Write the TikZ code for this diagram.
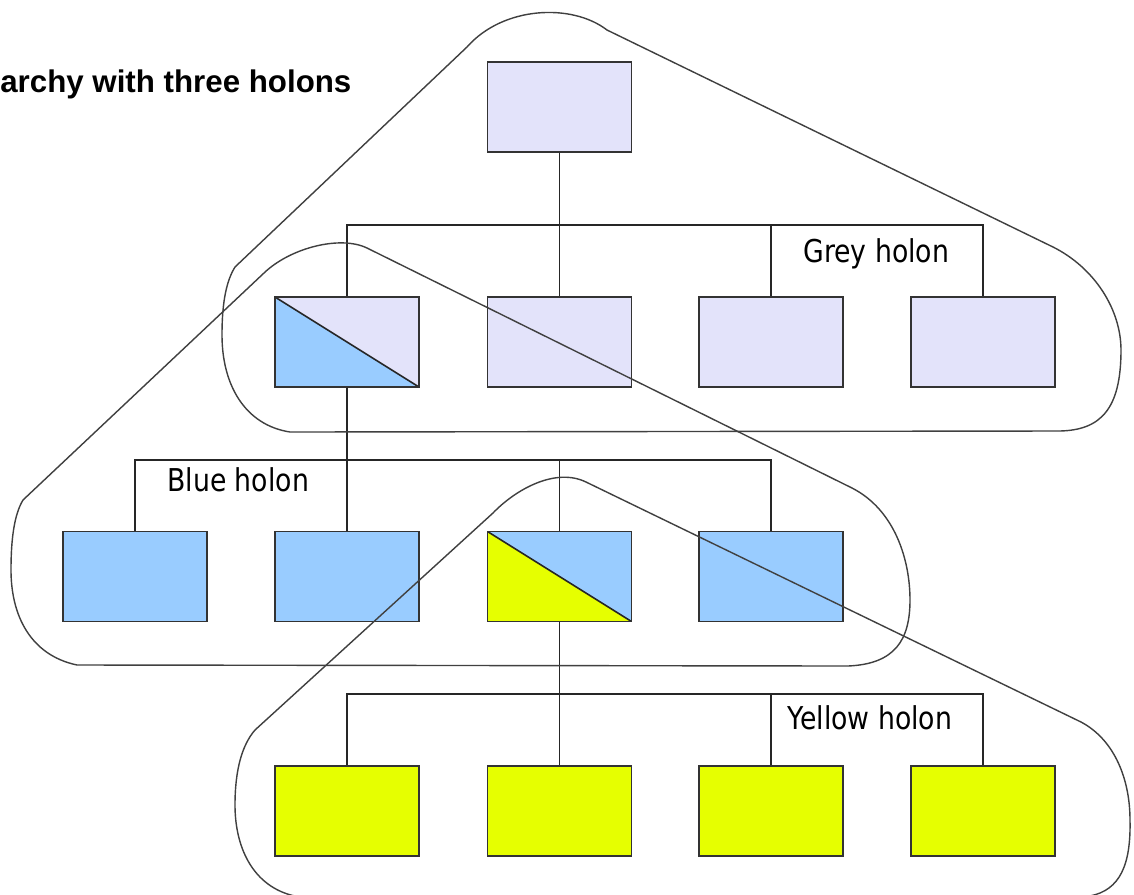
\documentclass[tikz,border=0pt]{standalone}
\usepackage{fontspec}
\usepackage{xcolor}
\usepackage{tikz}
\usetikzlibrary{calc}

\newfontfamily\titlefont{Liberation Sans}
\newfontfamily\lblfont[FakeStretch=0.85]{DejaVu Sans}

\definecolor{holgrey}{HTML}{E3E3FA}
\definecolor{holblue}{HTML}{99CCFF}
\definecolor{holyellow}{HTML}{E6FF00}

\begin{document}
\begin{tikzpicture}[
    x=0.02cm,
    y=-0.02cm,
    block/.style={rectangle, draw=black!80, line width=1pt, minimum width=2.88cm,
                  minimum height=1.8cm, inner sep=0pt},
    split/.style 2 args={block, fill=#1, path picture={
        \fill[#2] (path picture bounding box.north west)
            -- (path picture bounding box.south east)
            -- (path picture bounding box.south west) -- cycle;
        \draw[black!85, line width=0.9pt] (path picture bounding box.north west)
            -- (path picture bounding box.south east);}},
    link/.style={draw=black!85, line width=1.1pt},
    holon/.style={draw=black!75, line width=0.8pt},
    lbl/.style={font=\lblfont\fontsize{17.9pt}{20pt}\selectfont, inner sep=0pt,
                anchor=base west},
]
\fill[white] (0,0) rectangle (1134,894);
\useasboundingbox (0,0) rectangle (1134,894);
\clip (0,0) rectangle (1134,894);

\node[font=\titlefont\bfseries\fontsize{17.8pt}{20pt}\selectfont, inner sep=0pt,
      anchor=base west] (title) at (0,92) {archy with three holons};

\node[block, fill=holgrey]            (top) at (559.5,107) {};
\node[split={holgrey}{holblue}]       (g1)  at (347,342)   {};
\node[block, fill=holgrey]            (g2)  at (559.5,342) {};
\node[block, fill=holgrey]            (g3)  at (771,342)   {};
\node[block, fill=holgrey]            (g4)  at (983,342)   {};
\node[block, fill=holblue]            (b1)  at (135,576.5) {};
\node[block, fill=holblue]            (b2)  at (347,576.5) {};
\node[split={holblue}{holyellow}]     (b3)  at (559.5,576.5) {};
\node[block, fill=holblue]            (b4)  at (771,576.5) {};
\node[block, fill=holyellow]          (y1)  at (347,811)   {};
\node[block, fill=holyellow]          (y2)  at (559.5,811) {};
\node[block, fill=holyellow]          (y3)  at (771,811)   {};
\node[block, fill=holyellow]          (y4)  at (983,811)   {};

\foreach \n in {g1,g2,g3,g4}
    \draw[link] (top.south) -- ++(0,72) -| (\n.north);
\foreach \n in {b1,b2,b3,b4}
    \draw[link] (g1.south) -- ++(0,72) -| (\n.north);
\foreach \n in {y1,y2,y3,y4}
    \draw[link] (b3.south) -- ++(0,72) -| (\n.north);

\node[lbl] (greylbl)   at (803,262) {Grey holon};
\node[lbl] (bluelbl)   at (167,491) {Blue holon};
\node[lbl] (yellowlbl) at (787,729) {Yellow holon};

\draw[holon] (467,47) .. controls (503,6) and (572,3) .. (607,30)
    -- (1053,247) .. controls (1095,268) and (1121,310) .. (1121,350)
    .. controls (1121,410) and (1100,430) .. (1060,431)
    -- (290,432) .. controls (245,425) and (222,385) .. (222,335)
    .. controls (222,300) and (227,280) .. (235,267) -- cycle;

\draw[holon] (264,273) .. controls (290,248) and (340,235) .. (367,248)
    -- (852,488) .. controls (895,510) and (910,560) .. (910,600)
    .. controls (910,640) and (895,664) .. (848,666)
    -- (77,665) .. controls (30,655) and (11,615) .. (11,570)
    .. controls (11,540) and (14,515) .. (23,500) -- cycle;

\draw[holon] (493,513) .. controls (515,490) and (555,467) .. (586,482)
    -- (1081,722) .. controls (1115,740) and (1130,780) .. (1130,820)
    .. controls (1131,865) and (1120,890) .. (1090,896)
    -- (300,897) .. controls (255,890) and (235,850) .. (235,805)
    .. controls (235,770) and (242,745) .. (255,730) -- cycle;
\end{tikzpicture}
\end{document}
